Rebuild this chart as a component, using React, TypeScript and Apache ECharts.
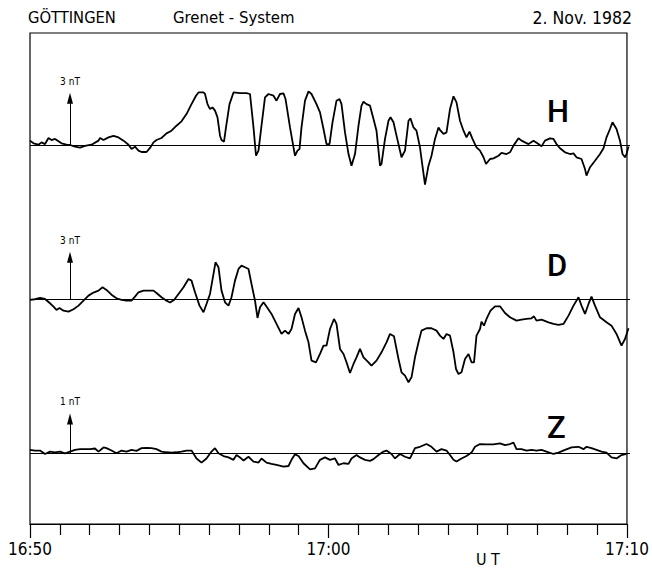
import React, { useEffect, useRef } from "react";
import * as echarts from "echarts";

// time in seconds after 16:50 UT, values in nT
const hSec = [0,7,17,23,30,37,43,50,57,63,73,80,90,100,110,123,137,140,147,157,167,177,187,197,203,210,217,223,233,240,247,253,263,273,283,293,303,313,323,332,337,347,350,355,360,365,370,375,380,383,388,392,399,407,420,433,440,447,452,457,463,470,477,487,493,500,507,511,520,527,530,535,539,543,550,557,563,573,
  580,587,593,599,605,613,619,623,630,637,643,650,657,663,667,673,680,687,693,700,703,710,717,721,727,733,743,750,757,761,767,773,780,783,790,797,803,810,817,821,827,833,840,847,853,860,867,873,879,885,893,900,907,912,920,927,937,943,953,960,967,977,983,990,997,1007,1017,1023,1030,1040,1047,1053,1060,1070,1080,1087,1093,1103,1110,1113,1120,1130,1140,1147,1153,1160,1165,1173,1180,1185,1190,1193,1197];
const hNT = [0.28,0.11,0.02,0.17,0.06,0.45,0.32,0.39,0.24,0.11,0.02,0,-0.11,-0.17,-0.06,0.02,0.28,0.45,0.32,0.49,0.58,0.49,0.28,0.02,-0.26,-0.11,-0.36,-0.45,-0.45,-0.19,0.17,0.32,0.45,0.75,0.92,1.24,1.52,1.99,2.63,3.17,3.38,3.38,3.28,2.63,2.31,2.42,2.21,1.78,0.6,0.32,0.21,1.13,2.63,3.38,3.34,3.34,3.28,1.13,-0.69,-0.36,1.24,3.06,3.28,3.17,2.85,3.28,3.32,2.96,1.13,-0.15,-0.69,-0.36,-0.26,1.13,2.85,3.45,3.28,2.63,
  2.10,1.03,0.06,0.06,1.46,2.85,2.96,2.63,0.81,-0.58,-1.33,-0.58,1.24,2.53,2.78,2.63,2.53,1.67,0.92,-1.33,-1.22,0.39,1.56,1.78,1.46,0.6,-0.79,-0.36,1.56,1.71,1.13,0.92,-0.15,-0.9,-2.55,-1.33,-0.69,0.39,1.13,0.92,0.71,0.81,2.31,3.13,2.74,1.56,0.92,0.49,0.86,0.39,-0.15,-0.36,-0.79,-1.22,-0.9,-0.86,-0.69,-0.51,-0.58,-0.47,-0.04,0.43,0.28,0.17,0.06,0.28,0.06,-0.09,0.28,0.43,0.39,0.06,-0.21,-0.47,-0.58,-0.54,-0.79,-0.9,-1.54,-1.97,-1.43,-1.01,-0.58,-0.21,0.49,1.03,1.46,1.03,0.28,-0.58,-0.79,-0.58,-0.09];

const dSec = [0,10,20,30,40,47,53,59,67,77,87,97,107,117,127,137,145,153,163,173,183,193,203,210,217,227,237,247,253,263,273,280,288,297,307,317,323,330,339,347,353,360,367,371,377,383,390,397,403,410,417,423,430,437,443,450,455,460,467,473,483,493,503,510,517,523,530,537,543,550,557,563,572,
  580,587,593,600,608,613,620,627,633,640,647,653,660,667,677,683,693,703,713,720,728,737,743,750,757,763,770,777,783,793,803,813,820,827,833,840,847,852,857,863,870,877,883,888,893,900,903,908,913,921,930,940,950,960,973,983,993,1003,1008,1013,1023,1037,1047,1057,1067,1077,1087,1097,1103,1110,1117,1123,1130,1140,1153,1163,1173,1183,1190,1197];
const dNT = [-0.07,-0.02,0.07,0,-0.31,-0.55,-0.79,-0.65,-0.84,-0.91,-0.74,-0.48,-0.12,0.24,0.46,0.6,0.84,0.65,0.31,0.05,-0.07,-0.12,-0.12,0.17,0.48,0.6,0.6,0.6,0.43,0.12,-0.12,-0.26,-0.07,0.36,0.84,1.44,1.32,0.48,-0.48,-0.96,-0.36,0.36,1.8,2.64,2.28,0.6,-0.24,-0.48,0.12,1.32,2.16,2.4,2.28,2.16,1.08,-0.12,-1.37,-0.6,-0.24,-0.55,-1.08,-1.8,-2.52,-2.28,-2.52,-2.16,-1.08,-0.65,-1.32,-2.28,-3.12,-4.44,-4.56,
  -3.96,-3.36,-3.36,-2.16,-1.44,-1.8,-3.6,-3.96,-4.56,-5.33,-4.68,-4.2,-3.6,-4.2,-4.56,-4.8,-4.44,-3.84,-3.12,-2.52,-2.69,-4.32,-5.28,-5.52,-6.0,-5.64,-4.2,-3.12,-2.28,-2.11,-2.11,-2.28,-2.64,-2.88,-2.52,-2.64,-3.84,-5.04,-5.4,-5.28,-4.32,-3.96,-4.56,-4.56,-2.64,-2.16,-1.63,-1.92,-1.44,-0.84,-0.53,-0.53,-1.01,-1.32,-1.56,-1.49,-1.44,-1.39,-1.25,-1.56,-1.49,-1.68,-1.8,-1.87,-1.8,-1.2,-0.48,0.12,-0.48,-1.08,-0.36,0.17,-0.48,-1.32,-1.68,-1.92,-2.52,-3.36,-2.88,-2.11];

const zSec = [0,10,20,30,40,50,60,70,80,90,100,110,120,130,137,147,153,163,173,183,193,203,213,223,233,243,253,263,273,283,293,303,313,323,333,343,353,363,370,377,387,397,407,413,420,427,437,447,457,463,473,483,493,507,517,523,530,537,547,560,570,
  580,590,600,610,617,627,637,643,653,660,670,680,687,697,707,713,723,730,740,750,760,770,780,793,803,813,823,833,840,847,853,863,873,883,890,900,913,927,940,950,960,967,973,983,993,1003,1013,1023,1033,1047,1057,1070,1083,1097,1107,1113,1123,1133,1143,1153,1163,1173,1183,1193];
const zNT = [0.1,0.08,0.08,-0.02,0.05,0.03,0.05,0,0.05,0.1,0.12,0.12,0.12,0.14,0.05,0.17,0.15,0.08,0,0.08,0.05,0.1,0.07,0.15,0.16,0.15,0.12,0.05,0.03,0.02,0.03,0.05,0.08,0.08,-0.15,-0.27,-0.15,0.05,0.15,0,-0.08,-0.12,-0.19,-0.05,-0.12,-0.21,-0.1,-0.24,-0.27,-0.15,-0.27,-0.31,-0.34,-0.39,-0.37,-0.19,-0.03,-0.08,-0.29,-0.47,-0.44,
  -0.19,-0.12,-0.19,-0.15,-0.34,-0.29,-0.31,-0.15,-0.05,-0.12,-0.19,-0.22,-0.17,-0.05,0.05,0.08,-0.02,-0.15,-0.02,-0.1,-0.15,0.15,0.19,0.27,0.19,0.05,0.12,0.08,-0.05,-0.19,-0.24,-0.15,-0.08,0.02,0.19,0.27,0.26,0.26,0.29,0.24,0.27,0.31,0.12,0.12,0.08,0.1,0.08,0.1,0.05,-0.02,0.02,0.1,0.17,0.19,0.12,0.19,0.15,0.1,0.05,0.02,-0.12,-0.15,-0.05,-0.02];

const tickLabels = ["16:50", "17:00", "17:10"];
const componentNames = ["H", "D", "Z"];
const scaleBars = [3, 3, 1]; // nT
const scaleBarSec = 80;

const zip = (a: number[], b: number[]) => a.map((t, i) => [t, b[i]]);

const FONT = "'DejaVu Sans Condensed', 'Liberation Sans Narrow', 'Liberation Sans', sans-serif";

export default function App() {
  const ref = useRef<HTMLDivElement>(null);
  useEffect(() => {
    if (!ref.current) return;
    const chart = echarts.init(ref.current, undefined, { renderer: "svg" });
    const traces = [zip(hSec, hNT), zip(dSec, dNT), zip(zSec, zNT)];
    const grids = [
      { left: 30, width: 600, top: 20.6, height: 171.05 },
      { left: 30, width: 600, top: 243.4, height: 152.8 },
      { left: 30, width: 600, top: 401.8, height: 103 },
      { left: 30, width: 600, top: 33, height: 491, show: true, borderColor: "#000", borderWidth: 1.2, backgroundColor: "transparent" },
    ];
    const yRanges = [[-3, 8], [-7, 4], [-1.5, 1.5], [0, 1]];
    const option: any = {
      animation: false,
      grid: grids,
      xAxis: [0, 1, 2, 3].map((i) =>
        i < 3
          ? { gridIndex: i, type: "value", min: 0, max: 1200, show: false }
          : {
              gridIndex: 3, type: "value", min: 0, max: 1200, interval: 600,
              axisLine: { show: true, lineStyle: { color: "#000", width: 1.2 } },
              axisTick: { show: true, length: 14, lineStyle: { color: "#000", width: 1.2 } },
              minorTick: { show: true, splitNumber: 10, length: 11, lineStyle: { color: "#000", width: 1.2 } },
              splitLine: { show: false },
              axisLabel: {
                formatter: (v: number) => tickLabels[Math.round(v / 600)],
                margin: 16, color: "#000", fontSize: 17, fontFamily: FONT,
              },
            }
      ),
      yAxis: yRanges.map((r, i) => ({ gridIndex: i, type: "value", min: r[0], max: r[1], show: false })),
      series: traces.map((data, i) => ({
        type: "line",
        xAxisIndex: i,
        yAxisIndex: i,
        data,
        symbol: "none",
        lineStyle: { color: "#000", width: 1.8 },
        z: 3,
        markLine: {
          silent: true,
          symbol: "none",
          animation: false,
          lineStyle: { color: "#000", width: 1, type: "solid" },
          label: { show: false },
          data: [
            { yAxis: 0 },
            [
              { coord: [scaleBarSec, 0], symbol: "none" },
              {
                coord: [scaleBarSec, scaleBars[i]],
                symbol: "triangle",
                symbolSize: [6, 11],
                label: {
                  show: true, position: "end", distance: 12,
                  formatter: `${scaleBars[i]} nT`, color: "#000", fontSize: 10, fontFamily: FONT,
                },
              },
            ],
          ],
        },
      })),
      graphic: [
        { type: "text", left: 28, top: 9, style: { text: "GÖTTINGEN", fontSize: 16.4, fontFamily: FONT, fill: "#000" } },
        { type: "text", left: 173, top: 9, style: { text: "Grenet - System", fontSize: 16.6, fontFamily: FONT, fill: "#000" } },
        { type: "text", right: 20, top: 9, style: { text: "2. Nov. 1982", fontSize: 17.5, fontFamily: FONT, fill: "#000" } },
        { type: "text", left: 476, top: 551, style: { text: "U T", fontSize: 16, fontFamily: FONT, fill: "#000" } },
        ...componentNames.map((n, i) => ({
          type: "text", left: 547, top: [96, 250, 412][i],
          style: { text: n, fontSize: 31, fontWeight: 500, fontFamily: "Roboto, 'Liberation Sans', sans-serif", fill: "#000" },
        })),
      ],
    };
    chart.setOption(option);
    return () => chart.dispose();
  }, []);
  return <div ref={ref} style={{ position: "absolute", left: 0, top: 0, width: 652, height: 568, background: "#fff" }} />;
}
